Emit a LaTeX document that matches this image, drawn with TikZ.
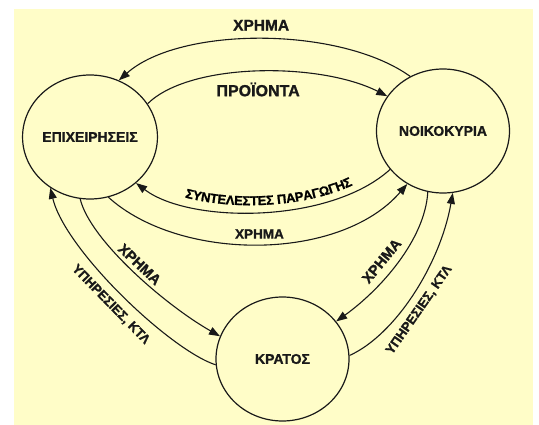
\documentclass[tikz,border=0pt]{standalone}
\usepackage{fontspec}
\setmainfont{Liberation Sans}[BoldFeatures={FakeBold=1.2}]
\usetikzlibrary{shapes.geometric,arrows.meta,decorations.text}
\definecolor{bgyellow}{RGB}{255,253,200}
\definecolor{ink}{RGB}{25,25,25}
\newcommand\synfont{\bfseries\fontsize{13}{13}\selectfont}
\begin{document}
\begin{tikzpicture}[x=1pt,y=-1pt,
  state/.style={ellipse,draw=ink,line width=1.2pt,minimum width=133pt,minimum height=124pt,inner sep=0pt,text=ink,font=\bfseries\fontsize{14}{14}\selectfont},
  flow/.style={draw=ink,line width=1.1pt,-{Triangle[length=11pt,width=8pt]}},
  lab/.style={inner sep=1pt,text=ink,font=\bfseries\fontsize{#1}{#1}\selectfont},
  lab/.default=13.5]
\fill[white] (0,0) rectangle (539,425);
\fill[bgyellow] (14,9) rectangle (533,425);
\useasboundingbox (0,0) rectangle (539,425);

\node[state] (E) at (90,137) {ΕΠΙΧΕΙΡΗΣΕΙΣ};
\node[state] (N) at (443,131) {ΝΟΙΚΟΚΥΡΙΑ};
\node[state] (K) at (282.5,359) {ΚΡΑΤΟΣ};

% top arcs
\draw[flow] (N.121) .. controls (340,26) and (180,26) .. (E.63)
  node[lab=15.5,pos=0.5,above=7pt] {ΧΡΗΜΑ};
\draw[flow] (E.30) .. controls (190,62) and (320,62) .. (N.148)
  node[lab=16,pos=0.5,below=9.5pt] {ΠΡΟΪΟΝΤΑ};

% middle arcs
\draw[flow] (N.216) .. controls (330,224) and (190,224) .. (E.-45);
\path[decorate,decoration={text along path,text={|\synfont|ΣΥΝΤΕΛΕΣΤΕΣ ΠΑΡΑΓΩΓΗΣ},text align={left indent=52pt},raise=7pt}]
  (E.-45) .. controls (190,224) and (330,224) .. (N.216);
\draw[flow] (E.-73) .. controls (180,262) and (340,262) .. (N.-124)
  node[lab=13.5,pos=0.5,above=4pt] {ΧΡΗΜΑ};

% left side
\draw[flow] (E.-99) .. controls (90,240) and (165,305) .. (K.160)
  node[lab=14.5,pos=0.5,sloped,above=3pt] {ΧΡΗΜΑ};
\draw[flow] (K.185) .. controls (170,350) and (65,250) .. (E.-128)
  node[lab=13,pos=0.5,sloped,below=8pt] {ΥΠΗΡΕΣΙΕΣ, ΚΤΛ};

% right side
\draw[flow] (N.-104) .. controls (425,240) and (380,290) .. (K.35.6)
  node[lab=14.5,pos=0.55,sloped,above=7pt] {ΧΡΗΜΑ};
\draw[flow] (K.3) .. controls (395,335) and (440,265) .. (N.-81)
  node[lab=13,pos=0.45,sloped,below=7pt] {ΥΠΗΡΕΣΙΕΣ, ΚΤΛ};
\end{tikzpicture}
\end{document}
